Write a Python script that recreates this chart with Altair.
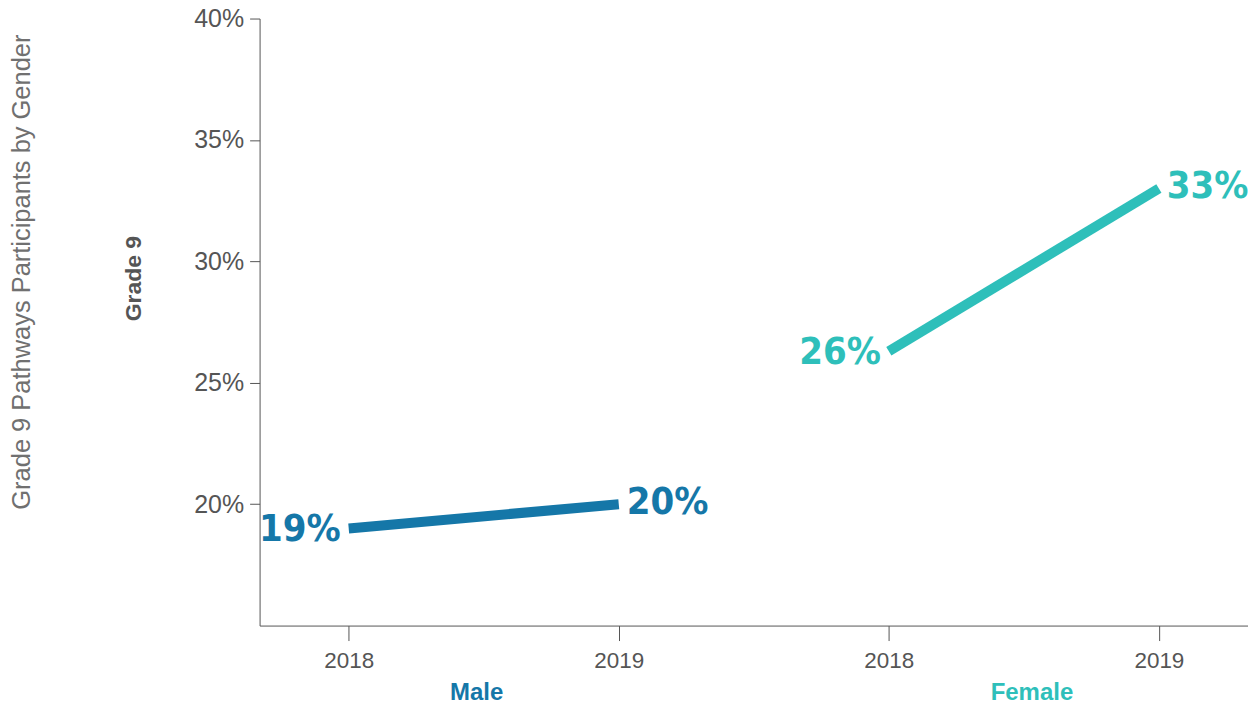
import altair as alt
import pandas as pd

genders = ["Male", "Male", "Female", "Female"]
years = ["2018", "2019", "2018", "2019"]
values = [0.19, 0.20, 0.263, 0.33]
labels = ["19%", "20%", "26%", "33%"]
y_ticks = [0.20, 0.25, 0.30, 0.35, 0.40]
group_order = ["Male", "Female"]
colors = ["#1577A8", "#2EBFBA"]

df = pd.DataFrame({"gender": genders, "year": years, "value": values, "label": labels})
df["key"] = df["gender"] + " " + df["year"]
keys = list(df["key"])

GREY = "#555555"
FONT = "Liberation Sans"
COND = "DejaVu Sans Condensed, Roboto Condensed, Liberation Sans Narrow, Roboto, sans-serif"

x_enc = alt.X(
    "key:N", sort=keys,
    scale=alt.Scale(type="point", padding=0.33),
    axis=alt.Axis(title=None, labelExpr="split(datum.value, ' ')[1]", labelAngle=0,
                  labelFontSize=22.5, labelColor=GREY, labelFont=FONT,
                  tickSize=15, tickColor=GREY, domainColor=GREY, labelPadding=9,
                  orient="bottom"),
)
y_enc = alt.Y(
    "value:Q",
    scale=alt.Scale(domain=[0.15, 0.40], nice=False, zero=False),
    axis=alt.Axis(values=y_ticks, format=".0%", title="Grade 9", grid=False,
                  tickSize=10, tickColor=GREY, domainColor=GREY, labelPadding=6,
                  labelFontSize=25, labelColor=GREY, labelFont=FONT,
                  titleFontSize=23, titleFontWeight="bold", titleColor=GREY,
                  titleFont=FONT, titleX=-126, titleY=260, titleBaseline="middle"),
)
color_enc = alt.Color("gender:N", scale=alt.Scale(domain=group_order, range=colors), legend=None)

base = alt.Chart(df)

lines = base.mark_line(strokeWidth=10, strokeCap="butt").encode(x=x_enc, y=y_enc, color=color_enc)

lab_left = base.transform_filter("datum.year == '2018'").mark_text(
    align="right", baseline="middle", dx=-8, dy=2, fontSize=38, fontWeight="bold", font=COND
).encode(x=x_enc, y=y_enc, color=color_enc, text="label:N")

lab_right = base.transform_filter("datum.year == '2019'").mark_text(
    align="left", baseline="middle", dx=8, dy=-1, fontSize=38, fontWeight="bold", font=COND
).encode(x=x_enc, y=y_enc, color=color_enc, text="label:N")

main = alt.layer(lines, lab_left, lab_right)

groups = base.mark_point(opacity=0).encode(
    x=alt.X("gender:N", sort=group_order,
            scale=alt.Scale(type="point", padding=0.39),
            axis=alt.Axis(title=None, orient="bottom", domain=False, ticks=False, tickSize=0,
                          labelPadding=55, labelFontSize=24, labelFontWeight="bold",
                          labelFont=FONT, labelAngle=0,
                          labelColor={"condition": {"test": "datum.value == 'Male'", "value": colors[0]},
                                      "value": colors[1]})),
    y=y_enc,
)

chart = alt.layer(main, groups).resolve_scale(x="independent").properties(
    width=990, height=608,
    padding={"left": 252, "top": 10, "right": 0, "bottom": 78},
    autosize=alt.AutoSizeParams(type="none"),
    title=alt.TitleParams("Grade 9 Pathways Participants by Gender", orient="left", anchor="middle",
                          fontSize=25.5, font=FONT, fontWeight="normal", color="#707070",
                          offset=87, dx=50),
).configure_view(stroke=None)

chart.save("out.html", embed_options={"renderer": "svg", "actions": False})
